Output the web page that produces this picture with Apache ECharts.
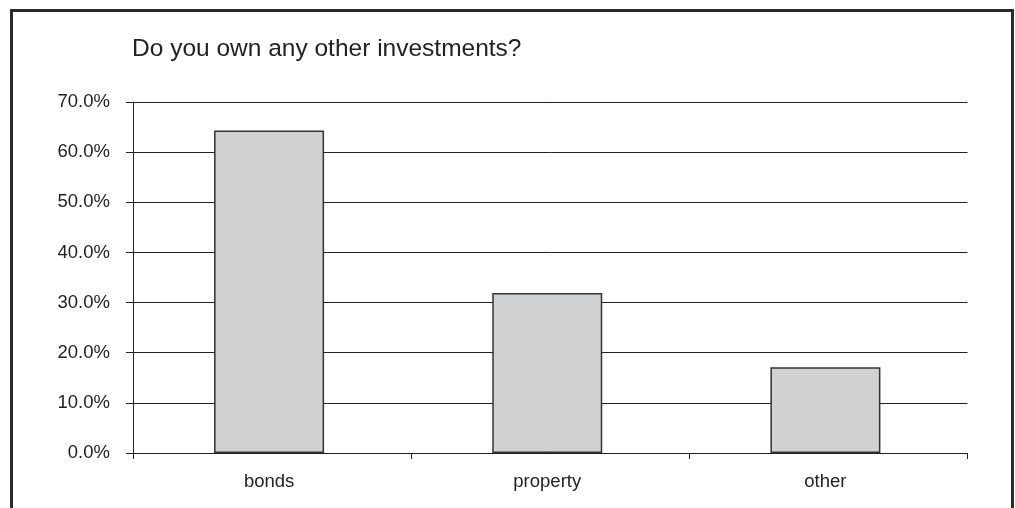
<!DOCTYPE html>
<html>
<head>
<meta charset="utf-8">
<script src="https://cdn.jsdelivr.net/npm/echarts@6/dist/echarts.min.js"></script>
<style>
html,body{margin:0;padding:0;background:#fff;}
#frame{position:absolute;left:10px;top:9px;width:1004px;height:520px;border:3px solid #2a2a2a;box-sizing:border-box;}
#chart{position:absolute;left:0;top:0;width:1015px;height:508px;}
</style>
</head>
<body>
<div id="frame"></div>
<div id="chart"></div>
<script>
const categories = ['bonds', 'property', 'other'];
const values = [64.3, 31.9, 17.1];
const titleText = 'Do you own any other investments?';

const chart = echarts.init(document.getElementById('chart'), null, {renderer: 'canvas'});
chart.setOption({
  animation: false,
  backgroundColor: 'transparent',
  title: {
    text: titleText,
    left: 132,
    top: 37,
    padding: 0,
    textStyle: {fontFamily: 'Liberation Sans', fontSize: 24.5, fontWeight: 'normal', color: '#222'}
  },
  grid: {left: 133, right: 47.5, top: 102, bottom: 55, containLabel: false},
  xAxis: {
    type: 'category',
    data: categories,
    boundaryGap: true,
    axisLine: {show: true, lineStyle: {color: '#222', width: 1}},
    axisTick: {show: true, length: 6, lineStyle: {color: '#222'}},
    axisLabel: {fontFamily: 'Liberation Sans', fontSize: 18.5, color: '#222', margin: 19,
      padding: [0, 6, 0, 0]}
  },
  yAxis: {
    type: 'value',
    min: 0,
    max: 70,
    interval: 10,
    axisLine: {show: true, lineStyle: {color: '#222', width: 1}},
    axisTick: {show: true, length: 7, lineStyle: {color: '#222'}},
    axisLabel: {fontFamily: 'Liberation Sans', fontSize: 18.5, color: '#222', margin: 23,
      formatter: v => v.toFixed(1) + '%'},
    splitLine: {show: true, lineStyle: {color: '#222', width: 1}}
  },
  series: [{
    type: 'bar',
    data: values,
    barWidth: 110,
    barGap: 0,
    itemStyle: {color: '#d0d1d3', borderColor: '#333', borderWidth: 1.5}
  }, {
    type: 'bar',
    data: [null, null, null],
    barWidth: 6,
    silent: true,
    itemStyle: {color: 'transparent'}
  }]
});
</script>
</body>
</html>
